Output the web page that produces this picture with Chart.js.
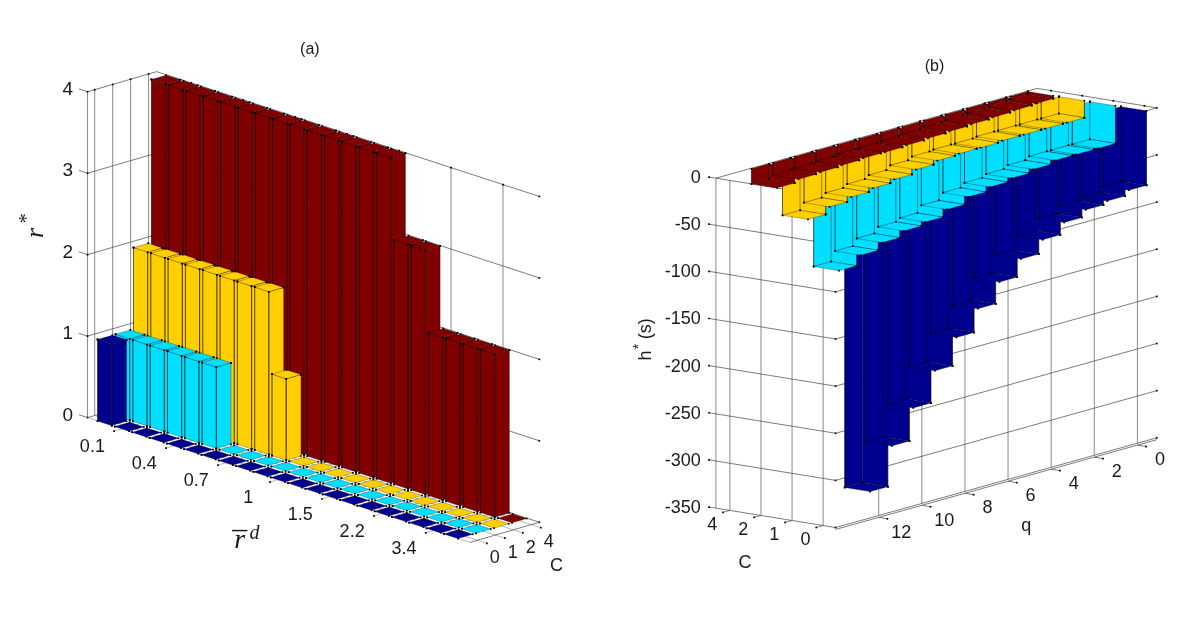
<!DOCTYPE html>
<html>
<head>
<meta charset="utf-8">
<title>r* and h* bar charts</title>
<script src="https://cdn.jsdelivr.net/npm/chart.js@4/dist/chart.umd.min.js"></script>
<style>
  html, body { margin: 0; padding: 0; background: #fff; overflow: hidden; }
  canvas { position: absolute; top: 0; }
  #panelA { left: 0; }
  #panelB { left: 600px; }
</style>
</head>
<body>
<canvas id="panelA" width="600" height="629"></canvas>
<canvas id="panelB" width="600" height="629"></canvas>
<script>
// Panel (a) data: 21 categories along r-bar^d, labelled every third one from index 1
const rdTickIndex = [1, 4, 7, 10, 13, 16, 19];
const rdTickLabels = ['0.1', '0.4', '0.7', '1', '1.5', '2.2', '3.4'];
const cLabels = ['0', '1', '2', '4'];
const rStarTicks = [0, 1, 2, 3, 4];
const rBlue = [1, 0, 0, 0, 0, 0, 0, 0, 0, 0, 0, 0, 0, 0, 0, 0, 0, 0, 0, 0, 0];
const rCyan = [1, 1, 1, 1, 1, 1, 0, 0, 0, 0, 0, 0, 0, 0, 0, 0, 0, 0, 0, 0, 0];
const rYellow = [2, 2, 2, 2, 2, 2, 2, 2, 1, 0, 0, 0, 0, 0, 0, 0, 0, 0, 0, 0, 0];
const rRed = [4, 4, 4, 4, 4, 4, 4, 4, 4, 4, 4, 4, 4, 4, 3, 3, 2, 2, 2, 2, 0];

// Panel (b) data: q = 0..12, one row per C
const qTickIndex = [0, 2, 4, 6, 8, 10, 12];
const qTickLabels = ['0', '2', '4', '6', '8', '10', '12'];
const hStarTicks = [0, -50, -100, -150, -200, -250, -300, -350];
const hBlue = [-79, -84, -87, -94, -106, -120, -138, -160, -184, -213, -246, -280, -322];
const hCyan = [-40, -40, -40, -43, -46, -49, -53, -60, -67, -70, -76, -83, -93];
const hYellow = [-18, -18, -18, -18, -19, -19, -20, -23, -27, -30, -33, -37, -44];
const hRed = [-3, -4, -5, -6, -7, -8, -9, -10, -10, -11, -12, -13, -16];

const rowColors = ['#00008f', '#00dfff', '#ffcf00', '#800000'];
const edgeColor = 'rgba(0,0,0,0.45)';
const sans = '"Liberation Sans", Arial, sans-serif';
const serif = '"Liberation Serif", serif';

// helpers that collect polygons and lines as scatter datasets
function polygon(list, pts, color) {
  list.push({
    data: pts.concat([pts[0]]),
    showLine: true,
    fill: 'shape',
    backgroundColor: color,
    borderColor: edgeColor,
    borderWidth: 0.6,
    pointRadius: 1.2,
    pointStyle: 'rect',
    pointBackgroundColor: '#000',
    pointBorderWidth: 0,
  });
}

function line(list, pts, color, width) {
  list.push({
    data: pts,
    showLine: true,
    fill: false,
    borderColor: color,
    borderWidth: width,
    pointRadius: 0,
  });
}

function dots(list, pts) {
  list.push({
    data: pts,
    showLine: false,
    pointRadius: 1.2,
    pointStyle: 'rect',
    pointBackgroundColor: '#000',
    pointBorderWidth: 0,
  });
}

// first dataset in the list must be painted first
function makeChart(id, datasets, texts) {
  datasets.forEach((d, k) => { d.order = datasets.length - k; d.clip = false; });
  return new Chart(document.getElementById(id), {
    type: 'scatter',
    data: { datasets },
    options: {
      responsive: false,
      animation: false,
      layout: { padding: 0 },
      elements: { line: { tension: 0 } },
      scales: {
        x: { type: 'linear', min: 0, max: 600, display: false },
        y: { type: 'linear', min: 0, max: 629, reverse: true, display: false },
      },
      plugins: { legend: { display: false }, tooltip: { enabled: false } },
    },
    plugins: [{
      id: 'panelText',
      afterDraw(chart) {
        const ctx = chart.ctx;
        ctx.save();
        ctx.fillStyle = '#1a1a1a';
        ctx.textBaseline = 'middle';
        texts.forEach((t) => {
          const px = chart.scales.x.getPixelForValue(t.x);
          const py = chart.scales.y.getPixelForValue(t.y);
          ctx.save();
          ctx.translate(px, py);
          if (t.rotate) ctx.rotate(t.rotate);
          ctx.font = t.font;
          ctx.textAlign = t.align || 'center';
          ctx.fillText(t.text, 0, 0);
          ctx.restore();
        });
        ctx.restore();
      },
    }],
  });
}

// ---------- Panel (a) ----------
function pa(i, c, z) {
  return { x: 109.5 + i * 17.55 + c * 18.2, y: 422.5 + i * 5.72 - c * 5.3 - z * 82.5 };
}
const aMinI = -1, aMaxI = 21.1, aMinC = -0.4, aMaxC = 3.45, aTop = 4;
const aSets = [];
const aTexts = [];
const gray = '#8a8a8a', dark = '#444';

// walls
[aMinC, 0, 1, 2, 3].forEach((c) => line(aSets, [pa(aMinI, c, 0), pa(aMinI, c, aTop)], gray, 1));
rdTickIndex.forEach((i) => line(aSets, [pa(i, aMaxC, 0), pa(i, aMaxC, aTop)], gray, 1));
rStarTicks.forEach((z) => {
  line(aSets, [pa(aMinI, aMinC, z), pa(aMinI, aMaxC, z), pa(aMaxI, aMaxC, z)], dark, 0.7);
  line(aSets, [pa(aMinI, aMinC, z), pa(aMinI - 0.5, aMinC, z)], dark, 0.7);
  dots(aSets, [pa(aMaxI, aMaxC, z), pa(aMinI, aMinC, z)]);
  aTexts.push({ text: String(z), x: 70, y: pa(aMinI, aMinC, z).y - 2, font: '19px ' + sans, align: 'right' });
});
dots(aSets, [0, 1, 2, 3].map((c) => pa(aMinI, c, aTop)));
dots(aSets, rdTickIndex.map((i) => pa(i, aMaxC, aTop)));

// floor
[0, 1, 2, 3].forEach((c, k) => {
  const end = pa(aMaxI + 0.55, c, 0);
  line(aSets, [pa(aMinI, c, 0), end], gray, 0.6);
  dots(aSets, [end]);
  aTexts.push({ text: cLabels[k], x: end.x + 8, y: end.y + 15, font: '18px ' + sans });
});
line(aSets, [pa(aMaxI, aMinC, 0), pa(aMaxI, aMaxC, 0)], dark, 0.7);
line(aSets, [pa(aMinI, aMinC, 0), pa(aMaxI, aMinC, 0)], gray, 0.6);
rdTickIndex.forEach((i, k) => {
  const end = pa(i, aMinC - 0.45, 0);
  line(aSets, [pa(i, aMaxC, 0), end], gray, 0.6);
  dots(aSets, [end]);
  aTexts.push({ text: rdTickLabels[k], x: end.x - 22, y: end.y + 16, font: '18px ' + sans });
});

// bars: back row first, left to right
const aHalf = 0.41;
[rRed, rYellow, rCyan, rBlue].forEach((row, r) => {
  const c = 3 - r;
  const color = rowColors[c];
  row.forEach((v, i) => {
    const a = i - aHalf, b = i + aHalf, l = c - aHalf, m = c + aHalf;
    if (v > 0) {
      polygon(aSets, [pa(a, l, 0), pa(b, l, 0), pa(b, l, v), pa(a, l, v)], color);
      polygon(aSets, [pa(b, l, 0), pa(b, m, 0), pa(b, m, v), pa(b, l, v)], color);
    }
    polygon(aSets, [pa(a, l, v), pa(b, l, v), pa(b, m, v), pa(a, m, v)], color);
  });
});

aTexts.push({ text: '(a)', x: 310, y: 46, font: '16px ' + sans });
aTexts.push({ text: 'C', x: 560, y: 569, font: '18px ' + sans });
aTexts.push({ text: 'r', x: 33, y: 232, font: 'italic 26px ' + serif, rotate: -Math.PI / 2 });
aTexts.push({ text: '*', x: 24, y: 217, font: '20px ' + serif, rotate: -Math.PI / 2 });
aTexts.push({ text: 'r', x: 239, y: 544, font: 'italic 28px ' + serif });
aTexts.push({ text: '\u2013', x: 239, y: 533, font: '30px ' + serif });
aTexts.push({ text: 'd', x: 254, y: 537, font: 'italic 20px ' + serif });
makeChart('panelA', aSets, aTexts);

// ---------- Panel (b) ----------
// x values are relative to the right canvas, which starts at 600
function pb(q, c, z) {
  return { x: 528 - q * 21.85 - c * 31.5, y: 108.6 + q * 6.1 - c * 5.1 - z * 0.955 };
}
const bMinQ = -0.9, bMaxQ = 14, bMinC = -0.4, bMaxC = 3.45, bFloor = -350;
const bSets = [];
const bTexts = [];

// walls
[bMaxC, 0, 1, 2, 3].forEach((c) => line(bSets, [pb(bMaxQ, c, bFloor), pb(bMaxQ, c, 0)], gray, 1));
qTickIndex.forEach((q) => line(bSets, [pb(q, bMinC, bFloor), pb(q, bMinC, 0)], gray, 1));
hStarTicks.forEach((z) => {
  line(bSets, [pb(bMaxQ, bMaxC, z), pb(bMaxQ, bMinC, z), pb(bMinQ, bMinC, z)], dark, 0.7);
  const left = pb(bMaxQ, bMaxC + 0.22, z);
  line(bSets, [pb(bMaxQ, bMaxC, z), left], dark, 0.7);
  dots(bSets, [left, pb(bMinQ, bMinC, z), pb(bMaxQ, bMinC, z)]);
  bTexts.push({ text: String(z), x: 98, y: left.y + 1, font: '18px ' + sans, align: 'right' });
});
line(bSets, [pb(bMaxQ, bMinC, bFloor - 2), pb(bMinQ, bMinC, bFloor - 2)], dark, 0.7);

// outline of the z = 0 plane, the part the bars do not hide
line(bSets, [pb(bMinQ, bMinC, 0), pb(bMinQ, bMaxC, 0), pb(bMaxQ, bMaxC, 0)], dark, 0.7);
dots(bSets, [0, 1, 2, 3].map((c) => pb(bMinQ, c, 0)));

// axis ticks on the floor edge
qTickIndex.forEach((q, k) => {
  const end = pb(q, bMinC - 0.28, bFloor - 2);
  line(bSets, [pb(q, bMinC, bFloor - 2), end], dark, 0.7);
  dots(bSets, [end]);
  bTexts.push({ text: qTickLabels[k], x: end.x + 14, y: end.y + 14, font: '18px ' + sans });
});
[0, 1, 2, 3].forEach((c, k) => {
  const end = pb(bMaxQ + 0.32, c, bFloor);
  line(bSets, [pb(bMaxQ, c, bFloor), end], dark, 0.7);
  dots(bSets, [end]);
  bTexts.push({ text: cLabels[k], x: end.x - 11, y: end.y + 13, font: '18px ' + sans });
});

// bars hang down, the far row (C = 0) and far end (q = 12) go first
const bHalf = 0.41;
[hBlue, hCyan, hYellow, hRed].forEach((row, c) => {
  const color = rowColors[c];
  for (let q = row.length - 1; q >= 0; q--) {
    const v = row[q];
    const a = q - bHalf, b = q + bHalf, l = c - bHalf, m = c + bHalf;
    polygon(bSets, [pb(a, m, 0), pb(b, m, 0), pb(b, m, v), pb(a, m, v)], color);
    polygon(bSets, [pb(a, m, 0), pb(a, l, 0), pb(a, l, v), pb(a, m, v)], color);
    polygon(bSets, [pb(a, l, v), pb(b, l, v), pb(b, m, v), pb(a, m, v)], color);
  }
});

bTexts.push({ text: '(b)', x: 335, y: 63, font: '16px ' + sans });
bTexts.push({ text: 'C', x: 143, y: 566, font: '18px ' + sans });
bTexts.push({ text: 'q', x: 428, y: 529, font: '18px ' + sans });
bTexts.push({ text: 'h', x: 43, y: 356, font: '18px ' + sans, rotate: -Math.PI / 2 });
bTexts.push({ text: '*', x: 36, y: 347, font: '14px ' + sans, rotate: -Math.PI / 2 });
bTexts.push({ text: '(s)', x: 43, y: 329, font: '18px ' + sans, rotate: -Math.PI / 2 });
makeChart('panelB', bSets, bTexts);
</script>
</body>
</html>
